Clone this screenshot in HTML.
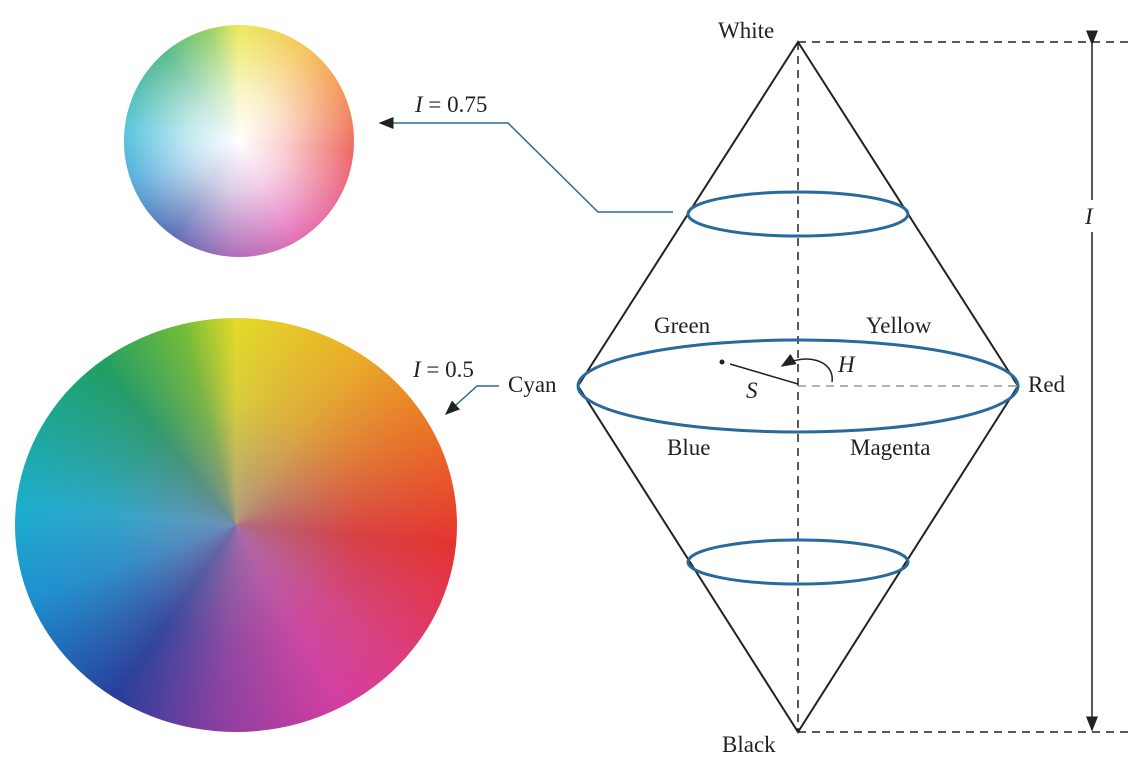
<!DOCTYPE html>
<html><head><meta charset="utf-8"><style>
body{margin:0;width:1146px;height:778px;background:#fff;position:relative;overflow:hidden;font-family:"Liberation Serif",serif}
.wheel{position:absolute;border-radius:50%;background:conic-gradient(from 0deg,#e8e020 0deg,#f0b020 35deg,#ee7020 65deg,#e8302a 95deg,#e03a80 130deg,#d83aa0 150deg,#8a3aa0 185deg,#203a9a 215deg,#1890d0 250deg,#18b0d0 275deg,#18a060 320deg,#70c030 345deg,#e8e020 360deg)}
.ov{position:absolute;inset:0;border-radius:50%}
svg{position:absolute;left:0;top:0}
text{font-family:"Liberation Serif",serif;font-size:23px;fill:#222}
</style></head><body>
<div class="wheel" style="left:124px;top:25px;width:230px;height:232px"><div class="ov" style="background:radial-gradient(circle at 50% 50%,rgba(255,255,255,1) 0%,rgba(255,255,255,.75) 30%,rgba(255,255,255,.1) 85%)"></div></div>
<div class="wheel" style="left:15px;top:318px;width:442px;height:414px"><div class="ov" style="background:radial-gradient(circle at 50% 50%,rgba(150,130,170,.7) 0%,rgba(150,130,170,.2) 40%,rgba(150,130,170,0) 80%)"></div></div>
<svg width="1146" height="778">
<defs><marker id="ah" markerWidth="10" markerHeight="8" refX="9" refY="4" orient="auto"><path d="M0,0L10,4L0,8z" fill="#222"/></marker></defs>
<g stroke="#222" stroke-width="1.5" stroke-dasharray="8,6" fill="none">
<line x1="798" y1="42" x2="798" y2="732"/><line x1="798" y1="42" x2="1132" y2="42"/><line x1="798" y1="732" x2="1132" y2="732"/></g>
<line x1="798" y1="386" x2="1018" y2="386" stroke="#999" stroke-width="1.5" stroke-dasharray="8,6"/>
<polygon points="798,42 1018,386 798,732 578,386" fill="none" stroke="#222" stroke-width="2"/>
<g fill="none" stroke="#2a6a9a" stroke-width="3">
<ellipse cx="798" cy="386" rx="220" ry="46"/>
<ellipse cx="798" cy="214" rx="110" ry="22"/>
<ellipse cx="798" cy="562" rx="110" ry="22"/></g>
<line x1="798" y1="384" x2="730" y2="364" stroke="#222" stroke-width="1.5"/>
<circle cx="722" cy="362" r="2.5" fill="#222"/>
<path d="M832,382 C835,360 805,352 782,366" fill="none" stroke="#222" stroke-width="1.5" marker-end="url(#ah)"/>
<line x1="1092" y1="44" x2="1092" y2="200" stroke="#222" stroke-width="1.5" marker-start="url(#ah)"/>
<line x1="1092" y1="232" x2="1092" y2="730" stroke="#222" stroke-width="1.5" marker-end="url(#ah)"/>
<polyline points="673,212 598,212 508,123 380,123" fill="none" stroke="#2a6a9a" stroke-width="1.5" marker-end="url(#ah)"/>
<polyline points="499,386 477,386 446,414" fill="none" stroke="#2a6a9a" stroke-width="1.5" marker-end="url(#ah)"/>
<text x="718" y="38">White</text>
<text x="722" y="752">Black</text>
<text x="508" y="392">Cyan</text>
<text x="1028" y="392">Red</text>
<text x="654" y="333">Green</text>
<text x="866" y="333">Yellow</text>
<text x="667" y="455">Blue</text>
<text x="850" y="455">Magenta</text>
<text x="838" y="372" font-style="italic">H</text>
<text x="746" y="398" font-style="italic">S</text>
<text x="1085" y="224" font-style="italic">I</text>
<text x="415" y="112"><tspan font-style="italic">I</tspan> = 0.75</text>
<text x="413" y="377"><tspan font-style="italic">I</tspan> = 0.5</text>
</svg>
</body></html>
